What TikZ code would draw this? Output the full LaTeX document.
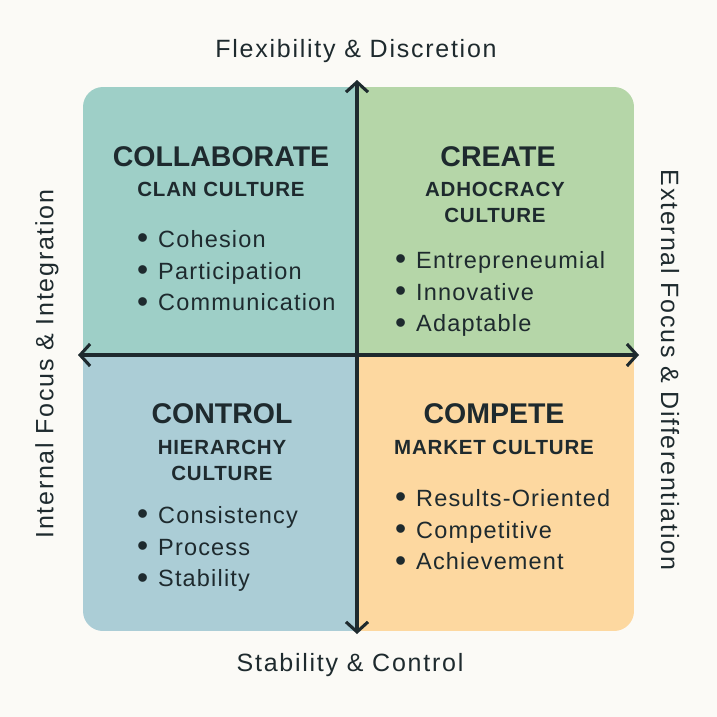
\documentclass[tikz,border=0pt]{standalone}
\usepackage{fontspec}
\setmainfont{Liberation Sans}
\newfontfamily\axisfont[LetterSpace=7]{Liberation Sans}
\newfontfamily\itemfont[LetterSpace=5]{Liberation Sans}
\newfontfamily\subfont[LetterSpace=4]{Liberation Sans}
\usetikzlibrary{arrows.meta}
\definecolor{bgc}{HTML}{FBFAF6}
\definecolor{tlc}{HTML}{9ECFC7}
\definecolor{trc}{HTML}{B5D6A8}
\definecolor{blc}{HTML}{ABCDD6}
\definecolor{brc}{HTML}{FDD8A0}
\definecolor{ink}{HTML}{1E2A2E}
\newcommand{\bul}{\makebox[21pt][l]{\raisebox{-1.5pt}{\scalebox{1.35}{•}}}}
\tikzset{
  heading/.style={font=\bfseries\fontsize{28.5}{30}\selectfont, text=ink, inner sep=0pt},
  subhead/.style={font=\subfont\bfseries\fontsize{20.5}{26}\selectfont, text=ink, inner sep=0pt, align=center},
  items/.style={font=\itemfont\fontsize{23.5}{31.8}\selectfont, text=ink, inner sep=0pt, align=left, anchor=north west},
  axislabel/.style={font=\axisfont\fontsize{25}{28}\selectfont, text=ink, inner sep=0pt},
  axis/.style={line width=3.1pt, draw=ink, {Straight Barb[length=10pt,width=22pt,line width=3.1pt]}-{Straight Barb[length=10pt,width=22pt,line width=3.1pt]}}
}
\begin{document}
\begin{tikzpicture}[x=1pt,y=-1pt]
\fill[bgc] (0,0) rectangle (717,717);
\useasboundingbox (0,0) rectangle (717,717);
\begin{scope}
  \clip[rounded corners=20pt] (83,87) rectangle (634,631);
  \fill[tlc] (83,87) rectangle (357,355);
  \fill[trc] (357,87) rectangle (634,355);
  \fill[blc] (83,355) rectangle (357,631);
  \fill[brc] (357,355) rectangle (634,631);
\end{scope}
% axes
\coordinate (top) at (357,80);
\coordinate (bot) at (357,634);
\coordinate (lft) at (78,355);
\coordinate (rgt) at (639,355);
\draw[axis] (top) -- (bot);
\draw[axis] (lft) -- (rgt);
% axis labels
\node[axislabel] (ltop) at (356,51) {Flexibility \& Discretion};
\node[axislabel] (lbot) at (350,665) {Stability \& Control};
\node[axislabel, rotate=90] (lleft) at (47,364) {Internal Focus \& Integration};
\node[axislabel, rotate=-90] (lright) at (670,370) {External Focus \& Differentiation};
% top-left
\node[heading] (h1) at (221,157) {COLLABORATE};
\node[subhead] (s1) at (221,189) {CLAN CULTURE};
\node[items] (i1) at (137,230) {\bul Cohesion\\\bul Participation\\\bul Communication};
% top-right
\node[heading] (h2) at (498,157) {CREATE};
\node[subhead] (s2) at (495,202) {ADHOCRACY\\CULTURE};
\node[items] (i2) at (395,251) {\bul Entrepreneumial\\\bul Innovative\\\bul Adaptable};
% bottom-left
\node[heading] (h3) at (222,414) {CONTROL};
\node[subhead] (s3) at (222,460) {HIERARCHY\\CULTURE};
\node[items] (i3) at (137,506) {\bul Consistency\\\bul Process\\\bul Stability};
% bottom-right
\node[heading] (h4) at (494,414) {COMPETE};
\node[subhead] (s4) at (494,447) {MARKET CULTURE};
\node[items] (i4) at (395,489) {\bul Results-Oriented\\\bul Competitive\\\bul Achievement};
\end{tikzpicture}
\end{document}
